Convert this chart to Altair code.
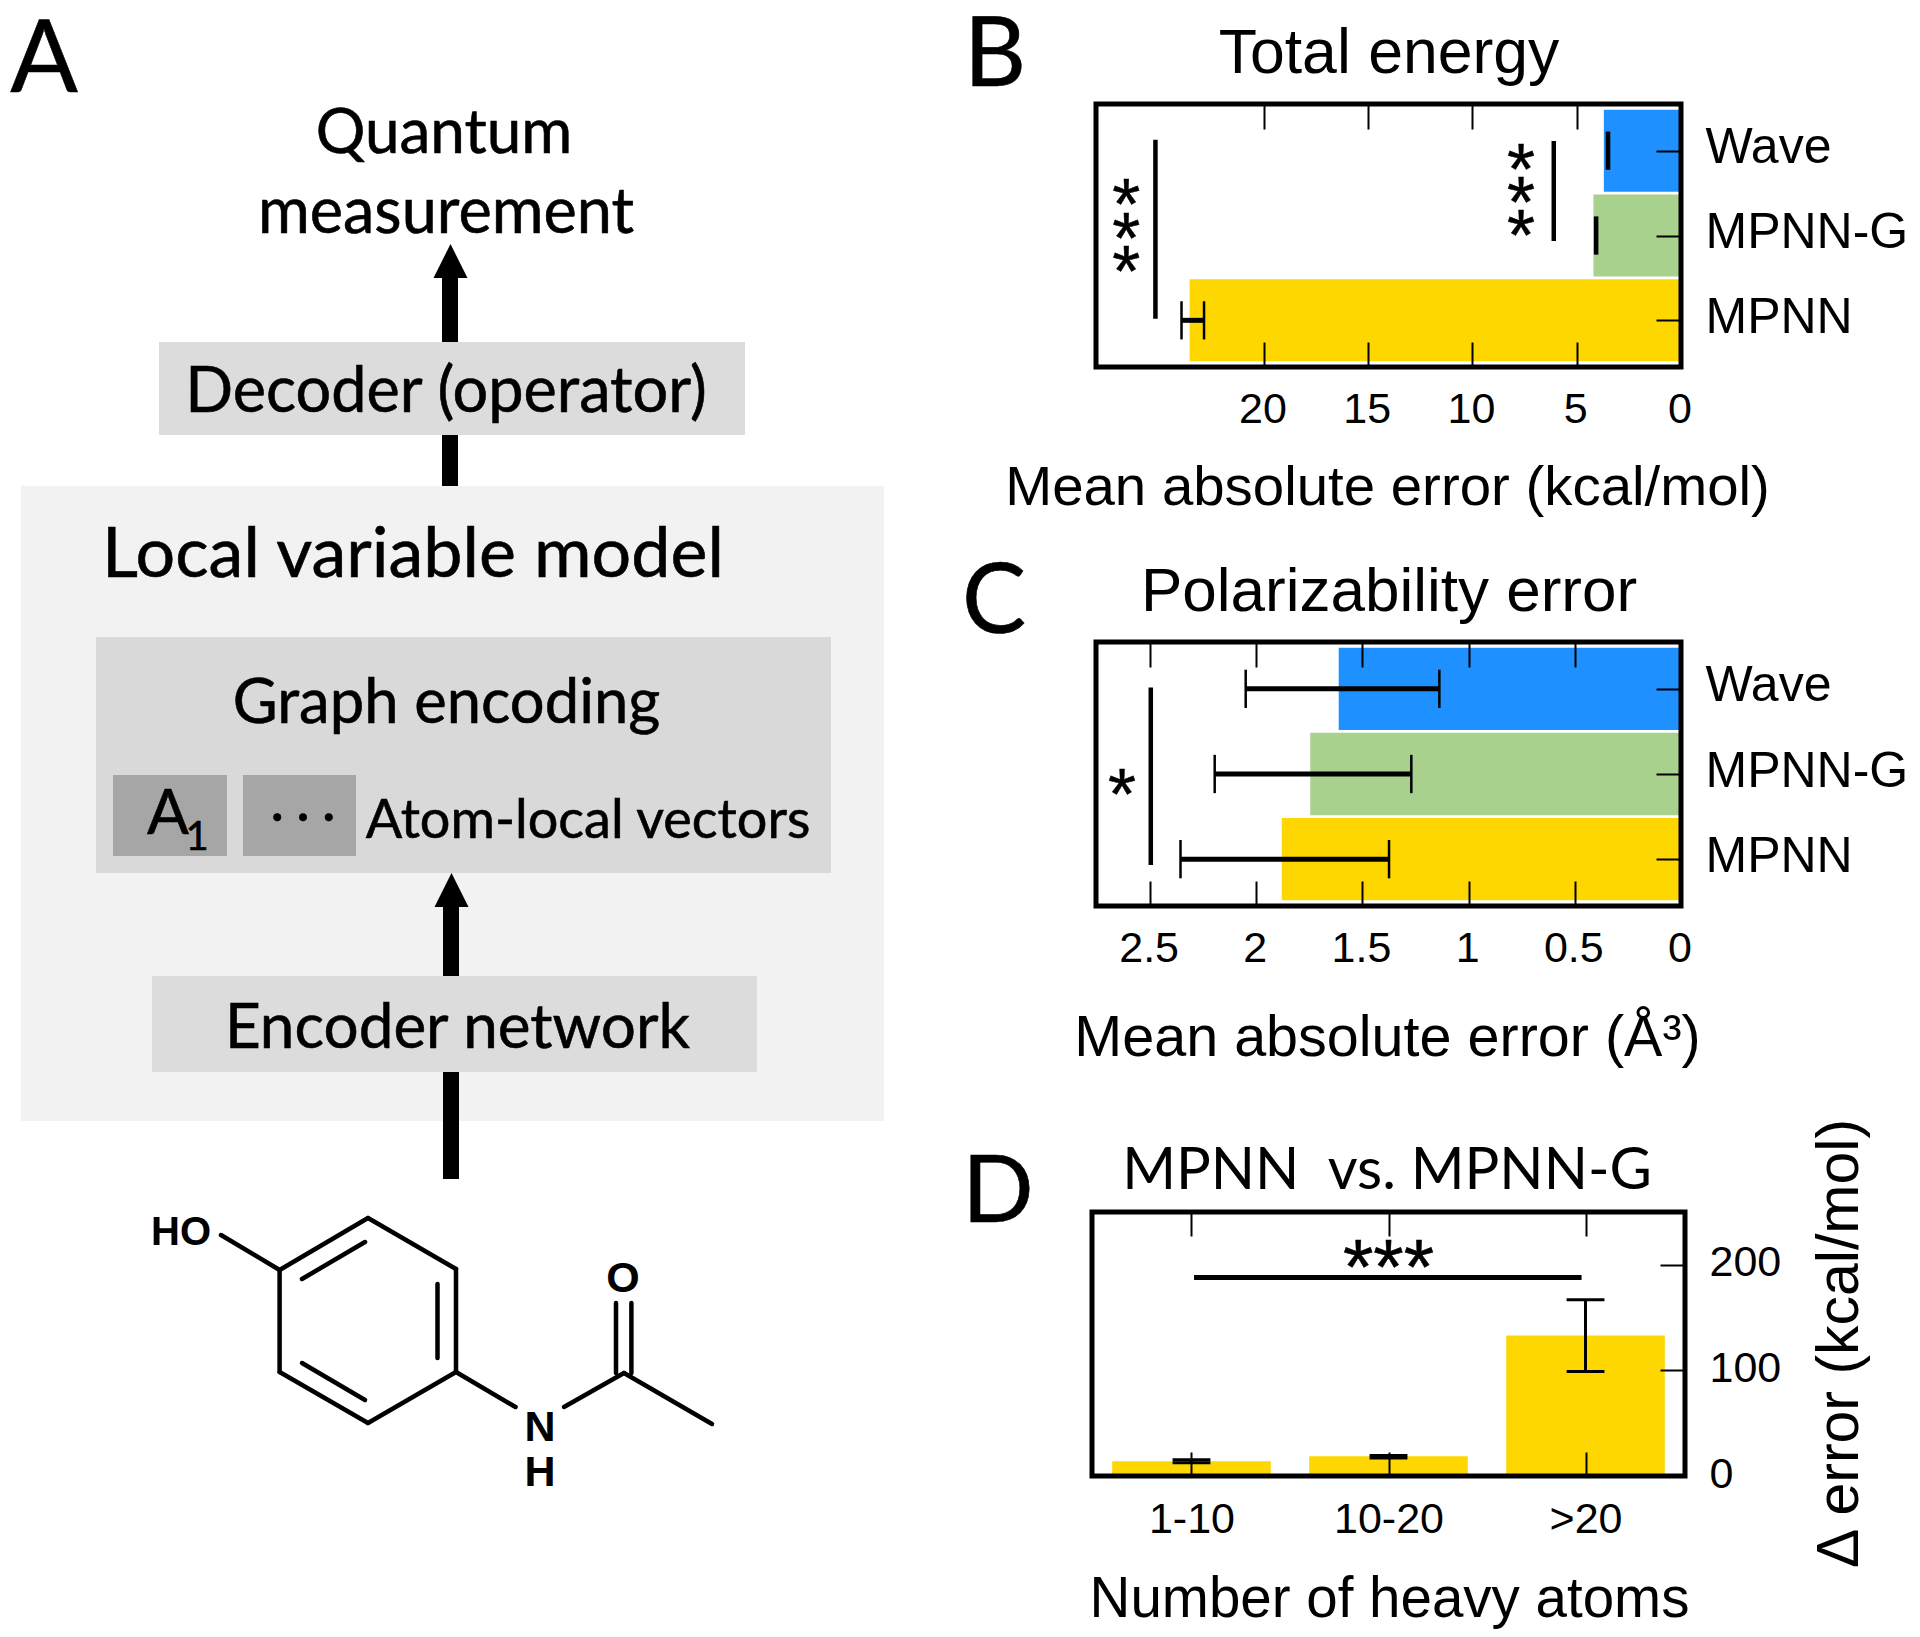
import altair as alt
import pandas as pd

# ---- panel B / C / D values ----
categories = ["Wave", "MPNN-G", "MPNN"]
palette = ["#1E90FF", "#A9D18E", "#FFD700"]
energy_mae = [3.7, 4.2, 23.56]
energy_lo = [3.45, 4.02, 22.87]
energy_hi = [3.55, 4.12, 23.95]
energy_ticks = [20, 15, 10, 5, 0]
polar_mae = [1.612, 1.746, 1.88]
polar_lo = [1.138, 1.27, 1.375]
polar_hi = [2.05, 2.196, 2.357]
polar_ticks = [2.5, 2, 1.5, 1, 0.5, 0]
heavy_groups = ["1-10", "10-20", ">20"]
heavy_delta = [14, 18.7, 133]
heavy_lo = [12.5, 17, 99]
heavy_hi = [15.5, 19.5, 167]
heavy_ticks = [0, 100, 200]
SANS = "Liberation Sans"
DIAG = "Lato"


def frame(w, h):
    return alt.Chart(pd.DataFrame({"a": [0]})).mark_rect(
        filled=False, stroke="black", strokeWidth=5
    ).encode(x=alt.value(w[0]), x2=alt.value(w[1]), y=alt.value(h[0]), y2=alt.value(h[1]))


def heading(text, x, y, font, size):
    return alt.Chart(pd.DataFrame({"t": [text]})).mark_text(
        font=font, fontSize=size, align="center", baseline="alphabetic", color="black"
    ).encode(x=alt.value(x), y=alt.value(y), text="t:N")


def hbar_panel(values, lo, hi, ticks, xmax, title, title_size, xtitle, xtitle_size, title_y, sig_lines, sig_stars):
    W, H = 589, 263 if xmax > 10 else 264
    x_scale = alt.Scale(domain=[xmax, 0], range=[4, W], nice=False, zero=False)
    y_scale = alt.Scale(domain=[2.55, -0.55], nice=False, zero=False)
    ranks = list(range(3))
    df = pd.DataFrame({"cat": categories, "rank": ranks, "val": values, "lo": lo, "hi": hi})
    df["zero"] = 0
    df["top"] = df["rank"] - 0.483
    df["bot"] = df["rank"] + 0.483
    df["c1"] = df["rank"] - 0.225
    df["c2"] = df["rank"] + 0.225
    bars = alt.Chart(df).mark_bar().encode(
        x=alt.X("val:Q", scale=x_scale, axis=alt.Axis(
            orient="bottom", values=ticks, format="~g", offset=-25, tickSize=25, tickWidth=2,
            tickColor="black", domain=False, grid=False, labelFont=SANS, labelFontSize=43,
            labelColor="black", labelPadding=21, labelOffset=-1.5, labelFlush=False, labelOverlap=False, zindex=1,
            title=xtitle, titleFont=SANS, titleFontSize=xtitle_size, titleFontWeight="normal",
            titleColor="black", titleBaseline="alphabetic", titleX=295, titleY=title_y + 25)),
        x2="zero:Q",
        y=alt.Y("top:Q", scale=y_scale, axis=alt.Axis(
            orient="right", values=ranks, labelExpr=f"{categories}[datum.value]", offset=-25,
            tickSize=25, tickWidth=2, tickColor="black", domain=False, grid=False,
            labelFont=SANS, labelFontSize=50, labelColor="black", labelPadding=24, labelLimit=400,
            labelOffset=-3, labelFlush=False, labelOverlap=False, zindex=1, title=None)),
        y2="bot:Q",
        color=alt.Color("cat:N", scale=alt.Scale(domain=categories, range=palette), legend=None),
    )
    topaxis = alt.Chart(df).mark_point(opacity=0).encode(
        x=alt.X("val:Q", scale=x_scale, axis=alt.Axis(
            orient="top", values=ticks, offset=-25, tickSize=25, tickWidth=2, tickColor="black",
            domain=False, grid=False, labels=False, title=None, zindex=1)),
    )
    stems = alt.Chart(df).mark_rule(color="black", strokeWidth=5).encode(
        x=alt.X("lo:Q", scale=x_scale, axis=None), x2="hi:Q",
        y=alt.Y("rank:Q", scale=y_scale, axis=None))
    cap_lo = alt.Chart(df).mark_rule(color="black", strokeWidth=2.5).encode(
        x=alt.X("lo:Q", scale=x_scale, axis=None),
        y=alt.Y("c1:Q", scale=y_scale, axis=None), y2="c2:Q")
    cap_hi = alt.Chart(df).mark_rule(color="black", strokeWidth=2.5).encode(
        x=alt.X("hi:Q", scale=x_scale, axis=None),
        y=alt.Y("c1:Q", scale=y_scale, axis=None), y2="c2:Q")
    lines = alt.Chart(pd.DataFrame(sig_lines, columns=["x", "a", "b"])).mark_rule(
        color="black", strokeWidth=4.5).encode(
        x=alt.X("x:Q", scale=x_scale, axis=None),
        y=alt.Y("a:Q", scale=y_scale, axis=None), y2="b:Q")
    stars = alt.Chart(pd.DataFrame(sig_stars, columns=["x", "y"]).assign(t="*")).mark_text(
        font=SANS, fontSize=72, baseline="middle", dy=14, color="black", stroke="black", strokeWidth=0.5).encode(
        x=alt.X("x:Q", scale=x_scale, axis=None),
        y=alt.Y("y:Q", scale=y_scale, axis=None), text="t:N")
    return alt.layer(
        bars, frame((4, W), (0, H)), stems, cap_lo, cap_hi, lines, stars, topaxis,
        heading(title, 297, -31, SANS, title_size),
    ).resolve_axis(x="independent", y="independent").properties(width=W, height=H)


panel_b = hbar_panel(
    energy_mae, energy_lo, energy_hi, energy_ticks, 28.05, "Total energy", 62.5,
    "Mean absolute error (kcal/mol)", 56.4, 137.5,
    [(25.2, -0.13, 1.98), (6.1, -0.114, 1.065)],
    [(26.6, 0.5), (26.6, 0.9), (26.6, 1.29), (7.67, 0.09), (7.67, 0.48), (7.67, 0.865)],
)
panel_c = hbar_panel(
    polar_mae, polar_lo, polar_hi, polar_ticks, 2.755, "Polarizability error", 62,
    "Mean absolute error (Å³)", 57.5, 149,
    [(2.497, -0.017, 2.07)],
    [(2.633, 1.10)],
)

# ---- panel D ----
W_D, H_D = 593, 264
dx = alt.Scale(domain=[-0.505, 2.505], nice=False, zero=False)
dy_s = alt.Scale(domain=[0, 250], nice=False, zero=False)
d = pd.DataFrame({"g": heavy_groups, "rank": [0, 1, 2], "val": heavy_delta, "lo": heavy_lo, "hi": heavy_hi})
d["zero"] = 0
d["l"] = d["rank"] - 0.4025
d["r"] = d["rank"] + 0.4025
d["c1"] = d["rank"] - 0.096
d["c2"] = d["rank"] + 0.096
d_bars = alt.Chart(d).mark_bar(color="#FFD700").encode(
    x=alt.X("l:Q", scale=dx, axis=alt.Axis(
        orient="bottom", values=[0, 1, 2], labelExpr=f"{heavy_groups}[datum.value]", offset=-24,
        tickSize=24, tickWidth=2, tickColor="black", domain=False, grid=False, labelFont=SANS,
        labelFontSize=43, labelColor="black", labelPadding=22, labelFlush=False, labelOverlap=False,
        zindex=1, title="Number of heavy atoms", titleFont=SANS, titleFontSize=56.5,
        titleFontWeight="normal", titleColor="black", titleBaseline="alphabetic", titleX=297,
        titleY=140.5 + 24)),
    x2="r:Q",
    y=alt.Y("val:Q", scale=dy_s, axis=alt.Axis(
        orient="right", values=heavy_ticks, offset=-25, tickSize=25, tickWidth=2, tickColor="black",
        domain=False, grid=False, labelFont=SANS, labelFontSize=43, labelColor="black", labelPadding=24,
        labelOffset=-2, labelFlush=False, labelOverlap=False, zindex=1, title="Δ error (kcal/mol)",
        titleFont=SANS, titleFontSize=59, titleFontWeight="normal", titleColor="black", titleAngle=270,
        titleBaseline="alphabetic", titleX=197, titleY=131)),
    y2="zero:Q",
)
d_top = alt.Chart(d).mark_point(opacity=0).encode(
    x=alt.X("rank:Q", scale=dx, axis=alt.Axis(
        orient="top", values=[0, 1, 2], offset=-24, tickSize=24, tickWidth=2, tickColor="black",
        domain=False, grid=False, labels=False, title=None, zindex=1)))
d_stem = alt.Chart(d).mark_rule(color="black", strokeWidth=3).encode(
    x=alt.X("rank:Q", scale=dx, axis=None),
    y=alt.Y("lo:Q", scale=dy_s, axis=None), y2="hi:Q")
d_cap1 = alt.Chart(d).mark_rule(color="black", strokeWidth=3).encode(
    x=alt.X("c1:Q", scale=dx, axis=None), x2="c2:Q",
    y=alt.Y("lo:Q", scale=dy_s, axis=None))
d_cap2 = alt.Chart(d).mark_rule(color="black", strokeWidth=3).encode(
    x=alt.X("c1:Q", scale=dx, axis=None), x2="c2:Q",
    y=alt.Y("hi:Q", scale=dy_s, axis=None))
d_sig = alt.Chart(pd.DataFrame({"a": [0.013], "b": [1.98], "y": [188]})).mark_rule(
    color="black", strokeWidth=5).encode(
    x=alt.X("a:Q", scale=dx, axis=None), x2="b:Q", y=alt.Y("y:Q", scale=dy_s, axis=None))
d_star = alt.Chart(pd.DataFrame({"x": [1], "y": [208], "t": ["***"]})).mark_text(
    font=SANS, fontSize=78, baseline="middle", dy=15, color="black", stroke="black", strokeWidth=0.5).encode(
    x=alt.X("x:Q", scale=dx, axis=None), y=alt.Y("y:Q", scale=dy_s, axis=None), text="t:N")
panel_d = alt.layer(
    d_bars, frame((0, W_D), (0, H_D)), d_stem, d_cap1, d_cap2, d_sig, d_star, d_top,
    heading("MPNN\u00a0 vs. MPNN-G", 295, -23, DIAG, 58),
).resolve_axis(x="independent", y="independent").properties(width=W_D, height=H_D)

# ---- panel A: schematic, in diagram units ----
A_W, A_H = 1084, 1621
ax = alt.Scale(domain=[8, 8 + A_W], nice=False, zero=False)
ay = alt.Scale(domain=[8 + A_H, 8], nice=False, zero=False)
boxes = pd.DataFrame(
    [
        ("outer", 21, 884, 486, 1121, "#F2F2F2"),
        ("decoder", 159, 745, 342, 435, "#DCDCDC"),
        ("graph", 96, 831, 637, 873, "#D9D9D9"),
        ("encoder", 152, 757, 976, 1072, "#DCDCDC"),
        ("a1", 113, 227, 775, 856, "#A6A6A6"),
        ("dots", 243, 356, 775, 856, "#A6A6A6"),
    ],
    columns=["n", "x1", "x2", "y1", "y2", "c"],
)
shafts = pd.DataFrame(
    [(450, 277, 342), (450, 435, 486), (451, 907, 976), (451, 1072, 1179)], columns=["x", "y1", "y2"]
)
heads = pd.DataFrame([(450.5, 261), (451.5, 890)], columns=["x", "y"])
bonds = pd.DataFrame(
    [
        (279.6, 1270, 368, 1218), (368, 1218, 456, 1269), (456, 1269, 456, 1372),
        (456, 1372, 368, 1423), (368, 1423, 279.6, 1372), (279.6, 1372, 279.6, 1270),
        (302, 1279, 365, 1242), (437.5, 1284, 437.5, 1358), (302, 1363, 365, 1400),
        (221, 1235, 279.6, 1270), (456, 1372, 515.5, 1407), (564, 1407, 624, 1373),
        (624, 1373, 712, 1424), (616, 1303, 616, 1373), (631.4, 1303, 631.4, 1373),
    ],
    columns=["x1", "y1", "x2", "y2"],
)
diagram_text = pd.DataFrame(
    [
        ("A", 44, 92, 100), ("B", 995, 86, 96), ("C", 994, 633, 96), ("D", 998, 1222, 94),
        ("Quantum", 444, 152.5, 62), ("measurement", 446, 232.5, 63),
        ("Decoder (operator)", 446, 411.5, 63), ("Local variable model", 413, 577, 70),
        ("Graph encoding", 446.5, 722.5, 61.5), ("Atom-local vectors", 588, 837.5, 54),
        ("Encoder network", 457.5, 1047.5, 62), ("A", 168, 834, 62), ("1", 197, 850, 40),
        ("· · ·", 303, 832, 50),
    ],
    columns=["t", "x", "y", "s"],
)
atom_text = pd.DataFrame(
    [("HO", 181, 1245, 40), ("N", 540, 1441, 43), ("H", 540, 1486, 43), ("O", 623, 1292, 43)],
    columns=["t", "x", "y", "s"],
)


def ch(df):
    return alt.Chart(df)


a_boxes = ch(boxes).mark_rect().encode(
    x=alt.X("x1:Q", scale=ax, axis=None), x2="x2:Q",
    y=alt.Y("y1:Q", scale=ay, axis=None), y2="y2:Q",
    color=alt.Color("c:N", scale=None))
a_shafts = ch(shafts).mark_rule(color="black", strokeWidth=16).encode(
    x=alt.X("x:Q", scale=ax, axis=None),
    y=alt.Y("y1:Q", scale=ay, axis=None), y2="y2:Q")
a_heads = ch(heads).mark_point(shape="M-1,1L0,-1L1,1Z", size=1156, filled=True, color="black", opacity=1).encode(
    x=alt.X("x:Q", scale=ax, axis=None), y=alt.Y("y:Q", scale=ay, axis=None))
a_bonds = ch(bonds).mark_rule(color="black", strokeWidth=4.5, strokeCap="round").encode(
    x=alt.X("x1:Q", scale=ax, axis=None), x2="x2:Q",
    y=alt.Y("y1:Q", scale=ay, axis=None), y2="y2:Q")
a_text = ch(diagram_text).mark_text(
    font=DIAG, align="center", baseline="alphabetic", color="black", stroke="black", strokeWidth=0.6
).encode(
    x=alt.X("x:Q", scale=ax, axis=None), y=alt.Y("y:Q", scale=ay, axis=None),
    text="t:N", size=alt.Size("s:Q", scale=None))
a_atoms = ch(atom_text).mark_text(font=SANS, fontWeight="bold", align="center", baseline="alphabetic", color="black").encode(
    x=alt.X("x:Q", scale=ax, axis=None), y=alt.Y("y:Q", scale=ay, axis=None),
    text="t:N", size=alt.Size("s:Q", scale=None))
panel_a = alt.layer(a_boxes, a_shafts, a_heads, a_bonds, a_text, a_atoms).properties(width=A_W, height=A_H)


def gap(h):
    return alt.Chart(pd.DataFrame({"a": [0]})).mark_point(opacity=0).encode(
        x=alt.value(20), y=alt.value(20)
    ).properties(width=589, height=h)


right = alt.vconcat(gap(96), panel_b, gap(275), panel_c, gap(306), panel_d, spacing=0, bounds="flush")
chart = alt.hconcat(panel_a, right, spacing=0, bounds="flush").properties(
    padding=0, background="white"
).configure_view(strokeWidth=0)

chart.save("out.html", embed_options={"renderer": "svg", "actions": False})
